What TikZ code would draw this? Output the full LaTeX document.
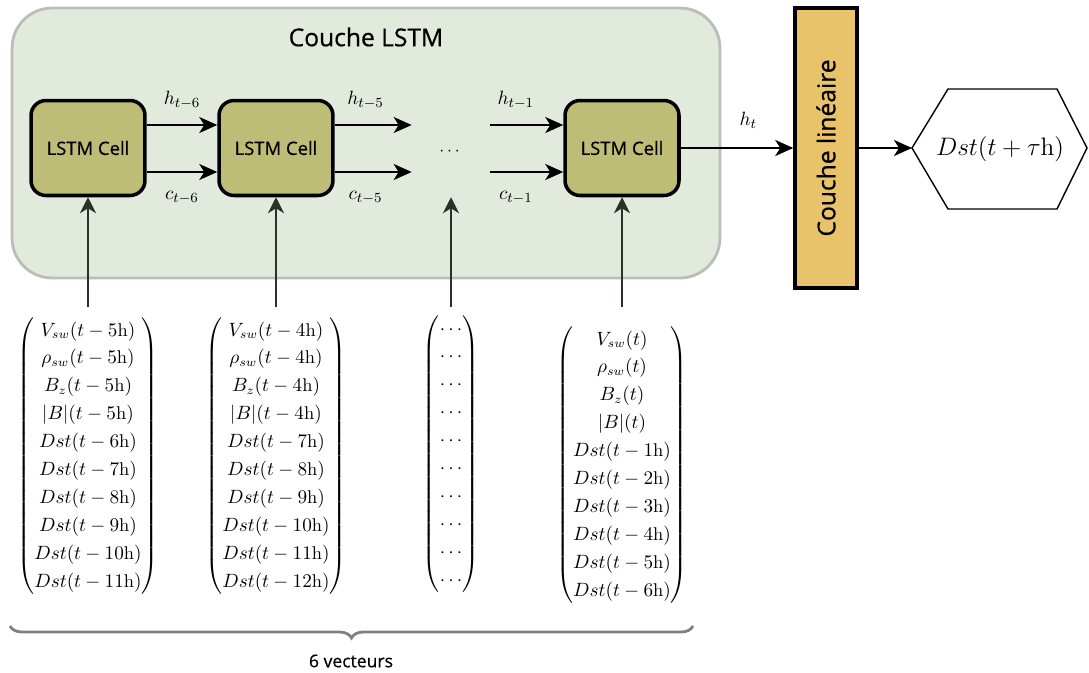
\documentclass[tikz,border=0pt]{standalone}
\usepackage{amsmath}
\usepackage{fontspec}
\setsansfont{Open Sans}[FakeBold=0.6]
\usepackage{tikz}
\usetikzlibrary{arrows.meta, positioning, calc, decorations.pathreplacing}
\definecolor{boxgreen}{RGB}{225,234,221}
\definecolor{boxedge}{RGB}{186,190,182}
\definecolor{cellolive}{RGB}{189,189,119}
\definecolor{linorange}{RGB}{232,195,106}
\definecolor{indark}{RGB}{40,50,40}
\newcommand{\hour}{\mathrm{h}}
\renewcommand{\arraystretch}{1.26}
\tikzset{
  lstm box/.style={
    rectangle, rounded corners=0.8cm, draw=boxedge, fill=boxgreen,
    line width=1.6pt, minimum width=14.16cm, minimum height=5.4cm
  },
  lstm cell/.style={
    rectangle, rounded corners=0.3cm, draw=black, fill=cellolive,
    line width=2pt, minimum width=2.28cm, minimum height=1.9cm,
    font=\sffamily\fontsize{10.5}{12}\selectfont
  },
  lin layer/.style={
    rectangle, draw=black, fill=linorange, line width=2pt,
    minimum width=5.6cm, minimum height=1.24cm, rotate=90,
    font=\sffamily\fontsize{14}{16}\selectfont
  },
  big title/.style={
    font=\sffamily\fontsize{14}{16}\selectfont
  },
  flow arrow/.style={
    -{Stealth[length=3.6mm, width=3.2mm, inset=1mm]}, line width=1.2pt, draw=black
  },
  in arrow/.style={
    -{Stealth[length=3.2mm, width=3.2mm, inset=1mm]}, line width=1.1pt, draw=indark
  },
  flow label/.style={
    font=\fontsize{11}{13}\selectfont
  },
  vec/.style={
    inner sep=0pt, font=\fontsize{10.5}{12.6}\selectfont
  },
  vec brace/.style={
    decorate, decoration={brace, mirror, amplitude=0.24cm},
    line width=1.6pt, draw=black!50
  }
}

\begin{document}
\begin{tikzpicture}[x=0.02cm, y=-0.02cm]
  \useasboundingbox (0,0) rectangle (1089,673);

  \node (box) [lstm box] at (366,143) {};
  \node (ttl) [big title] at (366,37) {Couche LSTM};

  \node (c1) [lstm cell] at (88,148) {LSTM Cell};
  \node (c2) [lstm cell] at (276,148) {LSTM Cell};
  \node (dd) [minimum width=1.56cm] at (451,152) {$\cdots$};
  \node (c3) [lstm cell] at (622,148) {LSTM Cell};
  \node (lin) [lin layer] at (826,148) {Couche linéaire};
  \node (out) [font=\Large] at (1000,149) {$Dst(t+\tau\hour)$};

  % hexagon round the output
  \coordinate (hexW) at (912,148);
  \draw [line width=0.8pt] (hexW) -- (948,89) -- (1057,89) -- (1087,148)
    -- (1057,209) -- (948,209) -- cycle;

  % recurrent states
  \draw [flow arrow] ([yshift=0.46cm]c1.east) -- node[flow label, above=0.18cm] {$h_{t-6}$} ([yshift=0.46cm]c2.west);
  \draw [flow arrow] ([yshift=-0.48cm]c1.east) -- node[flow label, below=0.25cm] {$c_{t-6}$} ([yshift=-0.48cm]c2.west);
  \draw [flow arrow] ([yshift=0.46cm]c2.east) -- node[flow label, above=0.18cm, pos=0.4] {$h_{t-5}$} ([yshift=0.46cm]c2.east -| dd.west);
  \draw [flow arrow] ([yshift=-0.48cm]c2.east) -- node[flow label, below=0.25cm, pos=0.4] {$c_{t-5}$} ([yshift=-0.48cm]c2.east -| dd.west);
  \draw [flow arrow] ([yshift=0.46cm]c3.west -| dd.east) -- node[flow label, above=0.18cm, pos=0.35] {$h_{t-1}$} ([yshift=0.46cm]c3.west);
  \draw [flow arrow] ([yshift=-0.48cm]c3.west -| dd.east) -- node[flow label, below=0.25cm, pos=0.35] {$c_{t-1}$} ([yshift=-0.48cm]c3.west);

  \draw [flow arrow] (c3) -- node[flow label, above=0.26cm, pos=0.6] {$h_t$} (lin);
  \draw [flow arrow] (lin) -- (hexW);

  % input vectors
  \node (v1) [vec] at (88,456) {$\begin{pmatrix}
    V_{sw}(t-5\hour)\\ \rho_{sw}(t-5\hour)\\ B_z(t-5\hour)\\ |B|(t-5\hour)\\
    Dst(t-6\hour)\\ Dst(t-7\hour)\\ Dst(t-8\hour)\\ Dst(t-9\hour)\\
    Dst(t-10\hour)\\ Dst(t-11\hour)
  \end{pmatrix}$};
  \node (v2) [vec] at (276,456) {$\begin{pmatrix}
    V_{sw}(t-4\hour)\\ \rho_{sw}(t-4\hour)\\ B_z(t-4\hour)\\ |B|(t-4\hour)\\
    Dst(t-7\hour)\\ Dst(t-8\hour)\\ Dst(t-9\hour)\\ Dst(t-10\hour)\\
    Dst(t-11\hour)\\ Dst(t-12\hour)
  \end{pmatrix}$};
  \node (v3) [vec] at (451,454) {$\begin{pmatrix}
    \cdots\\ \cdots\\ \cdots\\ \cdots\\ \cdots\\
    \cdots\\ \cdots\\ \cdots\\ \cdots\\ \cdots
  \end{pmatrix}$};
  \node (v4) [vec] at (622,465) {$\begin{pmatrix}
    V_{sw}(t)\\ \rho_{sw}(t)\\ B_z(t)\\ |B|(t)\\
    Dst(t-1\hour)\\ Dst(t-2\hour)\\ Dst(t-3\hour)\\ Dst(t-4\hour)\\
    Dst(t-5\hour)\\ Dst(t-6\hour)
  \end{pmatrix}$};

  \coordinate (feed) at (0,307);
  \foreach \v/\c in {v1/c1, v2/c2, v4/c3}
    \draw [in arrow] (\v.north |- feed) -- (\c.south);
  \draw [in arrow] (v3.north |- feed) -- (v3.north |- c1.south);

  % brace under the vectors
  \coordinate (bl) at (10,626);
  \coordinate (br) at (693,626);
  \draw [vec brace] (bl) -- (br);
  \node (nvec) [font=\sffamily\fontsize{10}{12}\selectfont] at (351,661) {6 vecteurs};
\end{tikzpicture}
\end{document}
